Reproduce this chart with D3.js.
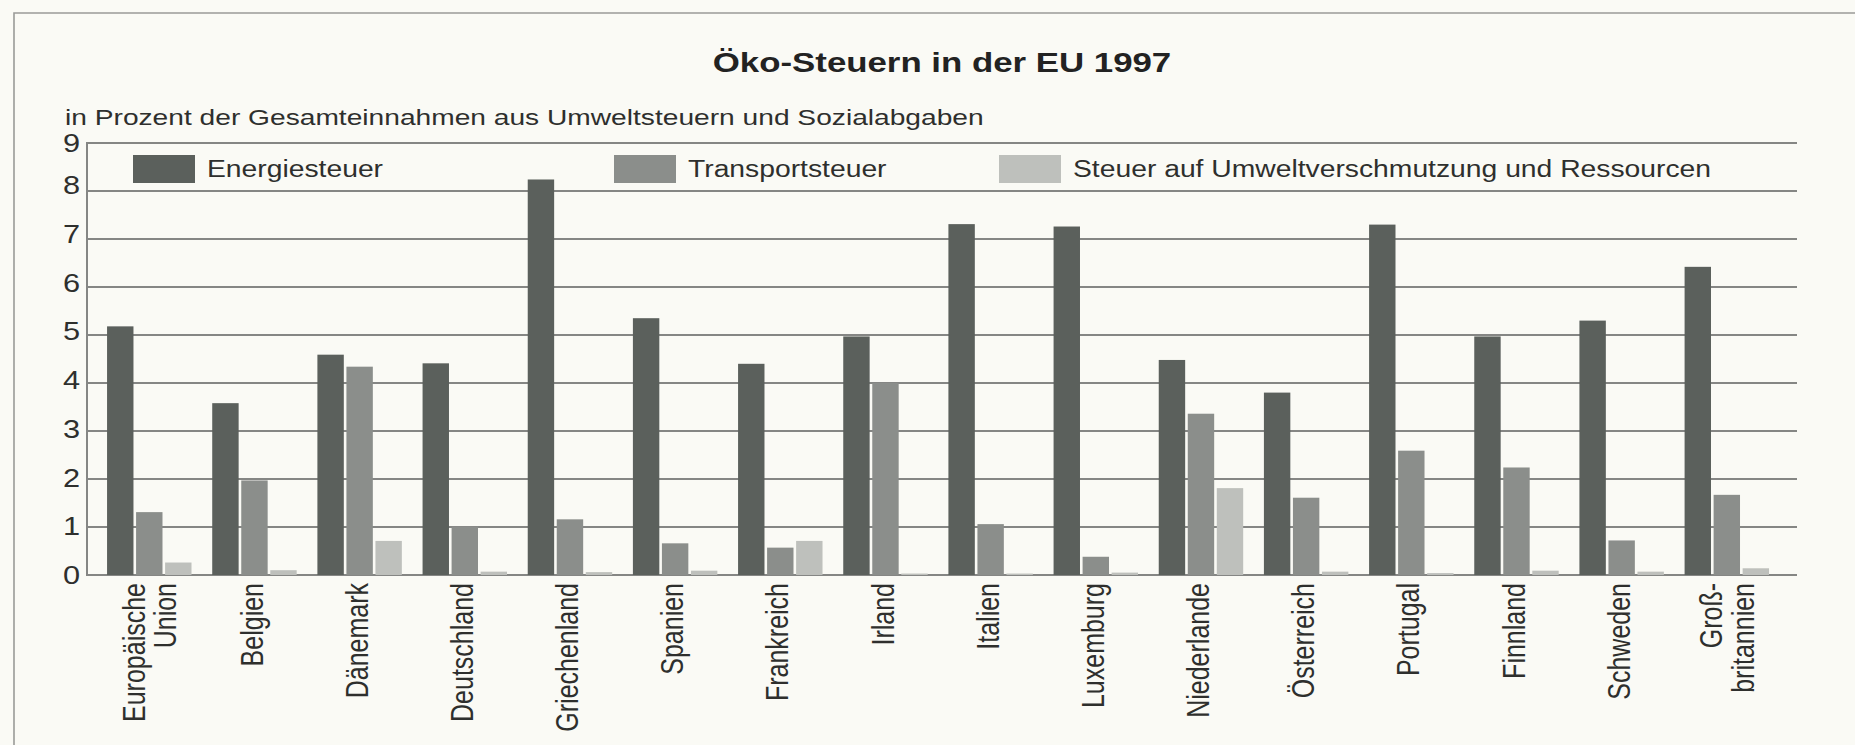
<!DOCTYPE html>
<html>
<head>
<meta charset="utf-8">
<script src="https://cdn.jsdelivr.net/npm/d3@7"></script>
<style>
  html, body { margin: 0; padding: 0; background: #fafaf5; }
  svg { display: block; }
  text { font-family: "Liberation Sans", Arial, Helvetica, sans-serif; fill: #2e2f2d; }
</style>
</head>
<body>
<svg id="chart" width="1855" height="745"></svg>
<script>
// ---- data ----
const categories = ["Europäische Union", "Belgien", "Dänemark", "Deutschland", "Griechenland", "Spanien",
  "Frankreich", "Irland", "Italien", "Luxemburg", "Niederlande", "Österreich", "Portugal", "Finnland",
  "Schweden", "Großbritannien"];
const categoryLabels = [["Europäische", "Union"], ["Belgien"], ["Dänemark"], ["Deutschland"], ["Griechenland"],
  ["Spanien"], ["Frankreich"], ["Irland"], ["Italien"], ["Luxemburg"], ["Niederlande"], ["Österreich"],
  ["Portugal"], ["Finnland"], ["Schweden"], ["Groß-", "britannien"]];
const seriesNames = ["Energiesteuer", "Transportsteuer", "Steuer auf Umweltverschmutzung und Ressourcen"];
const energiesteuer = [5.18, 3.58, 4.59, 4.41, 8.24, 5.35, 4.40, 4.97, 7.31, 7.26, 4.48, 3.80, 7.30, 4.97, 5.30, 6.42];
const transportsteuer = [1.31, 1.97, 4.34, 1.01, 1.16, 0.66, 0.57, 4.00, 1.06, 0.38, 3.36, 1.61, 2.59, 2.24, 0.72, 1.67];
const umweltsteuer = [0.26, 0.10, 0.71, 0.07, 0.06, 0.09, 0.71, 0.03, 0.03, 0.05, 1.81, 0.07, 0.04, 0.09, 0.07, 0.14];
const yTicks = [0, 1, 2, 3, 4, 5, 6, 7, 8, 9];
const titleText = "Öko-Steuern in der EU 1997";
const subtitleText = "in Prozent der Gesamteinnahmen aus Umweltsteuern und Sozialabgaben";

// ---- layout / style ----
const W = 1855, H = 745;
const SX = 1.23;               // horizontal stretch of the reference typography
const plotL = 87, plotR = 1797, plotT = 143, plotB = 575;
const colors = ["#5b605c", "#8b8e8b", "#bec0bc"];
const gridColor = "#858684";
const legendX = [133, 614, 999];

const svg = d3.select("#chart");
svg.append("rect").attr("width", W).attr("height", H).attr("fill", "#fafaf5");

// frame
svg.append("path")
  .attr("d", `M14,${H} L14,13 L${W},13`)
  .attr("fill", "none").attr("stroke", "#9a9b98").attr("stroke-width", 1.6);

const series = [energiesteuer, transportsteuer, umweltsteuer];
const rows = categories.map((c, i) => ({ cat: c, label: categoryLabels[i], vals: series.map(s => s[i]) }));

const y = d3.scaleLinear().domain([0, 9]).range([plotB, plotT]);
const x0 = d3.scaleBand().domain(categories).range([96.7, 1779.4]).paddingInner(0.197).paddingOuter(0.0985);
const x1 = d3.scaleBand().domain(d3.range(3)).range([0, x0.bandwidth()]).paddingInner(0.09);
const color = d3.scaleOrdinal().domain(d3.range(3)).range(colors);

// gridlines
svg.append("g").selectAll("line").data(yTicks).join("line")
  .attr("x1", plotL).attr("x2", plotR)
  .attr("y1", d => y(d)).attr("y2", d => y(d))
  .attr("stroke", gridColor).attr("stroke-width", 2);
// left axis line
svg.append("line").attr("x1", plotL).attr("x2", plotL).attr("y1", y(9) - 1).attr("y2", y(0) + 1)
  .attr("stroke", gridColor).attr("stroke-width", 2);

// y tick labels
svg.append("g").selectAll("text").data(yTicks).join("text")
  .attr("transform", d => `translate(80,${y(d) - (d < 9 ? 0.75 * d : 0)}) scale(${SX},1)`)
  .attr("text-anchor", "end").attr("dy", "0.36em")
  .attr("font-size", 25).text(d => d);

// bars
const groups = svg.append("g").selectAll("g").data(rows).join("g")
  .attr("transform", d => `translate(${x0(d.cat)},0)`);
groups.selectAll("rect").data(d => d.vals.map((v, k) => ({ v, k }))).join("rect")
  .attr("x", d => x1(d.k)).attr("width", x1.bandwidth())
  .attr("y", d => y(d.v)).attr("height", d => y(0) - y(d.v))
  .attr("fill", d => color(d.k));

// x labels (rotated)
const lineGap = 25.5; // local units (before horizontal stretch)
const xl = svg.append("g").selectAll("text").data(rows).join("text")
  .attr("transform", d => `translate(${x0(d.cat) + x0.bandwidth() / 2 - (d.label.length === 1 ? 3 : 0)},583) scale(${SX},1) rotate(-90)`)
  .attr("text-anchor", "end").attr("font-size", 25);
xl.each(function (d) {
  const n = d.label.length;
  d3.select(this).selectAll("tspan").data(d.label).join("tspan")
    .attr("x", 0)
    .attr("y", (t, i) => (i - (n - 1) / 2) * lineGap)
    .attr("dy", "0.36em")
    .text(t => t);
});

// legend
const lg = svg.append("g").selectAll("g").data(seriesNames).join("g")
  .attr("transform", (d, i) => `translate(${legendX[i]},155)`);
lg.append("rect").attr("width", 62).attr("height", 28).attr("fill", (d, i) => color(i));
lg.append("text").attr("transform", `translate(74,22) scale(${SX},1)`)
  .attr("font-size", 23).text(d => d);

// title + subtitle
svg.append("text").attr("transform", `translate(${(plotL + plotR) / 2},71.5) scale(${SX},1)`)
  .attr("text-anchor", "middle").attr("font-size", 28.3).attr("font-weight", "bold")
  .style("fill", "#222").text(titleText);
svg.append("text").attr("transform", `translate(65,124.5) scale(${SX},1)`)
  .attr("font-size", 22.9).text(subtitleText);
</script>
</body>
</html>
